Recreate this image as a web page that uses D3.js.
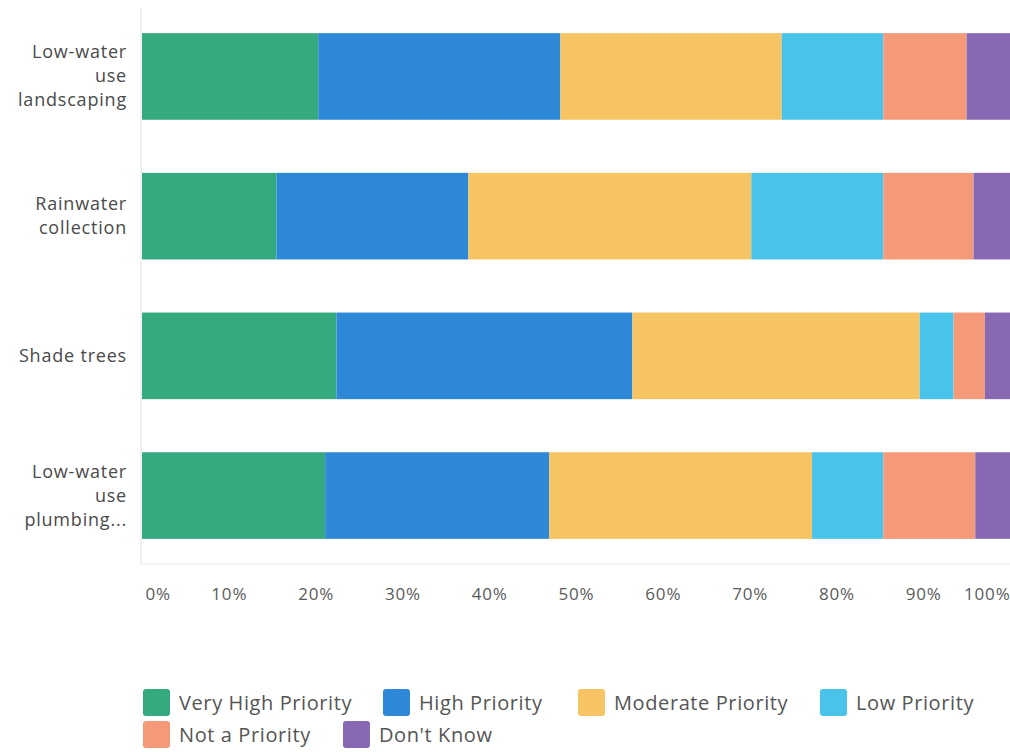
<!DOCTYPE html>
<html>
<head>
<meta charset="utf-8">
<script src="https://cdn.jsdelivr.net/npm/d3@7"></script>
<style>
  body { margin: 0; background: #fff; }
  svg { display: block; }
  text { font-family: "Open Sans", "Noto Sans", sans-serif; }
</style>
</head>
<body>
<div id="chart"></div>
<script>
// categories (lines of each label)
var categories = ["Low-water use landscaping", "Rainwater collection", "Shade trees", "Low-water use plumbing..."];
var categoryLines = [["Low-water", "use", "landscaping"], ["Rainwater", "collection"], ["Shade trees"], ["Low-water", "use", "plumbing..."]];

// series (percent of responses)
var seriesNames = ["Very High Priority", "High Priority", "Moderate Priority", "Low Priority", "Not a Priority", "Don't Know"];
var veryHigh = [20.3, 15.5, 22.4, 21.1];
var high     = [27.9, 22.1, 34.1, 25.8];
var moderate = [25.5, 32.6, 33.1, 30.3];
var low      = [11.7, 15.2, 3.9, 8.2];
var notPrio  = [9.6, 10.4, 3.6, 10.6];
var dontKnow = [5.0, 4.2, 2.9, 4.0];

var tickValues = [0, 10, 20, 30, 40, 50, 60, 70, 80, 90, 100];
var colors = ["#35aa7e", "#2e88d8", "#f6c462", "#4ac3eb", "#f49a78", "#8669b2"];

var width = 1010, height = 752;
var margin = {top: 8, right: 0, bottom: 188, left: 142};

var svg = d3.select("#chart")
  .append("svg")
  .attr("width", width)
  .attr("height", height);

var x = d3.scaleLinear().domain([0, 100]).range([margin.left, 1010]);
var y = d3.scaleBand().domain(categories).range([margin.top, height - margin.bottom])
  .paddingInner(0.38).paddingOuter(0.18);

// build table for stack
var table = categories.map(function(c, i) {
  return {
    cat: c,
    "Very High Priority": veryHigh[i],
    "High Priority": high[i],
    "Moderate Priority": moderate[i],
    "Low Priority": low[i],
    "Not a Priority": notPrio[i],
    "Don't Know": dontKnow[i]
  };
});
var stacked = d3.stack().keys(seriesNames)(table);

// axis lines
svg.append("line")
  .attr("x1", x(0) - 1).attr("x2", x(0) - 1)
  .attr("y1", margin.top).attr("y2", height - margin.bottom)
  .attr("stroke", "#e2e2e2");
svg.append("line")
  .attr("x1", x(0) - 1).attr("x2", width)
  .attr("y1", height - margin.bottom).attr("y2", height - margin.bottom)
  .attr("stroke", "#ececec");

// bars
svg.append("g").selectAll("g")
  .data(stacked)
  .enter().append("g")
  .attr("fill", function(d, i) { return colors[i]; })
  .selectAll("rect")
  .data(function(d) { return d; })
  .enter().append("rect")
  .attr("x", function(d) { return x(d[0]); })
  .attr("width", function(d) { return x(d[1]) - x(d[0]); })
  .attr("y", function(d) { return y(d.data.cat); })
  .attr("height", y.bandwidth());

// category labels
var lab = svg.append("g").selectAll("text")
  .data(categories)
  .enter().append("text")
  .attr("text-anchor", "end")
  .attr("fill", "#4a4a4a")
  .style("font-size", "18px")
  .style("letter-spacing", "0.8px")
  .attr("x", 127)
  .attr("y", function(d) { return y(d) + y.bandwidth() / 2; });
lab.each(function(d, i) {
  var lines = categoryLines[i];
  var t = d3.select(this);
  lines.forEach(function(l, j) {
    t.append("tspan")
      .attr("x", 127)
      .attr("dy", j === 0 ? ((-(lines.length - 1) / 2) * 24 + 6) + "px" : "24px")
      .text(l);
  });
});

// x axis
var xAxis = d3.axisBottom(x).tickValues(tickValues).tickSize(0).tickPadding(0)
  .tickFormat(function(d) { return d + "%"; });
var gx = svg.append("g")
  .attr("transform", "translate(0," + 600 + ")")
  .call(xAxis);
gx.select(".domain").remove();
gx.selectAll("text")
  .attr("y", 0).attr("dy", 0)
  .attr("fill", "#5a5a5a")
  .style("font-size", "17px")
  .style("letter-spacing", "0.8px")
  .attr("text-anchor", function(d) { return d === 0 ? "start" : (d === 100 ? "end" : "middle"); })
  .attr("dx", function(d) { return d === 0 ? 3 : 0; });

// legend
var legendPos = [[143, 689], [383, 689], [578, 689], [820, 689], [143, 721], [343, 721]];
var lg = svg.append("g").selectAll("g")
  .data(seriesNames)
  .enter().append("g")
  .attr("transform", function(d, i) { return "translate(" + legendPos[i][0] + "," + legendPos[i][1] + ")"; });
lg.append("rect")
  .attr("width", 27).attr("height", 27).attr("rx", 3)
  .attr("fill", function(d, i) { return colors[i]; });
lg.append("text")
  .attr("x", 36).attr("y", 21)
  .attr("fill", "#555")
  .style("font-size", "20px")
  .style("letter-spacing", "0.6px")
  .text(function(d) { return d; });
</script>
</body>
</html>
